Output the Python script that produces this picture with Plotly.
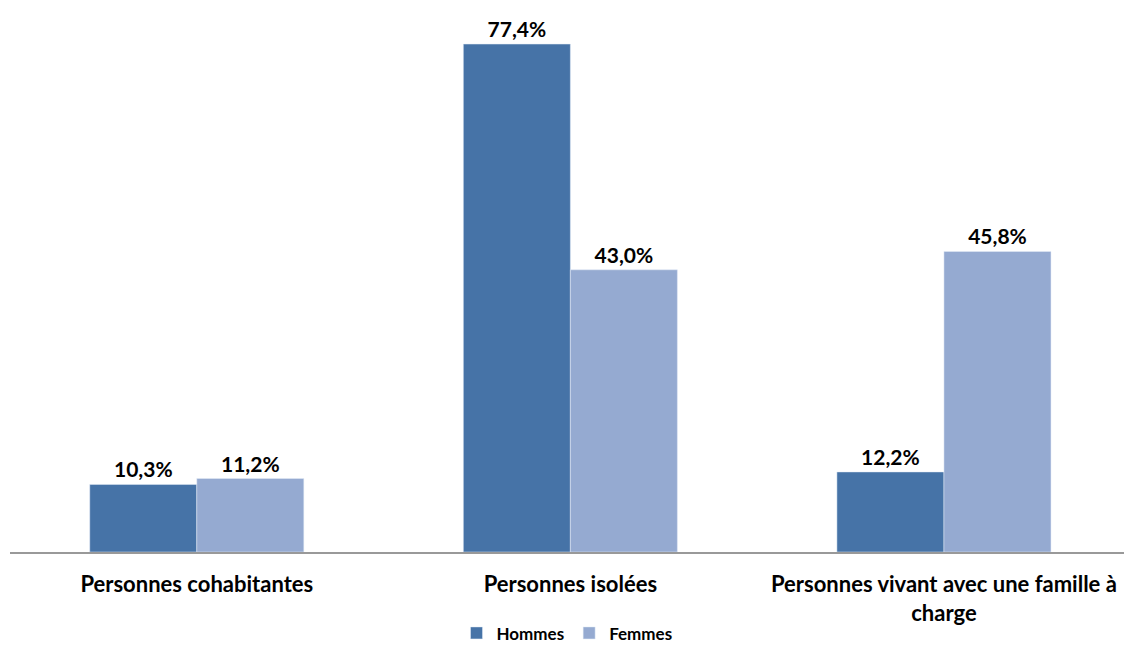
import plotly.graph_objects as go

categories = ["Personnes cohabitantes", "Personnes isolées", "Personnes vivant avec une famille à<br>charge"]
hommes = [10.3, 77.4, 12.2]
femmes = [11.2, 43.0, 45.8]

FONT = "Lato"
fig = go.Figure()
fig.add_trace(go.Bar(
    name="Hommes", x=categories, y=hommes, marker_color="#4673A7",
    texttemplate="%{y:.1f}%", textposition="outside", cliponaxis=False,
    textfont=dict(family=FONT, size=21, color="black", weight="bold"),
))
fig.add_trace(go.Bar(
    name="Femmes", x=categories, y=femmes, marker_color="#95AAD1",
    texttemplate="%{y:.1f}%", textposition="outside", cliponaxis=False,
    textfont=dict(family=FONT, size=21, color="black", weight="bold"),
))
fig.update_layout(
    width=1124, height=648,
    margin=dict(l=10, r=0, t=27, b=96, autoexpand=False),
    paper_bgcolor="white", plot_bgcolor="white",
    separators=", ",
    barmode="group", bargap=0.427, bargroupgap=0,
    font=dict(family=FONT, color="black"),
    showlegend=True,
    legend=dict(orientation="h", x=0.5, xanchor="center", y=-0.155, yanchor="middle",
                font=dict(family=FONT, size=17, color="black", weight="bold"),
                itemwidth=30, traceorder="normal", tracegroupgap=0),
    xaxis=dict(range=[-0.5, 2.482], showline=True, linecolor="#999999", linewidth=1.5,
               showgrid=False, ticks="", ticklabelstandoff=12, automargin=False,
               tickfont=dict(family=FONT, size=22, color="black", weight="bold")),
    yaxis=dict(range=[0, 80], visible=False, showgrid=False, zeroline=False, automargin=False),
)
fig.write_html("out.html")
